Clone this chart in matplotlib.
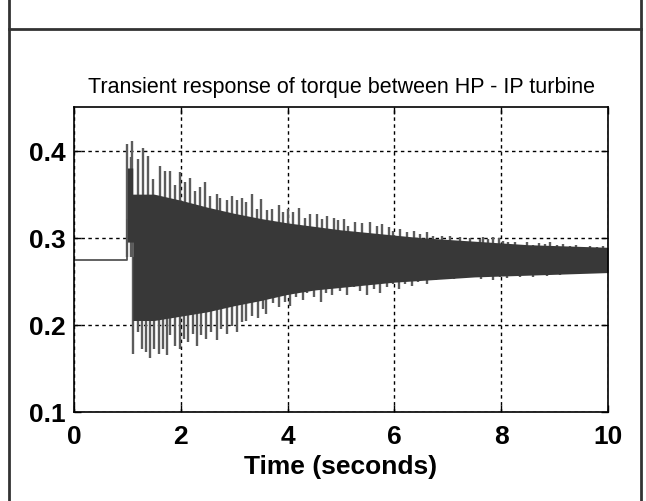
import matplotlib
matplotlib.use("Agg")
import matplotlib.pyplot as plt
from matplotlib.lines import Line2D

plt.rcParams['font.family'] = ['Liberation Sans', 'DejaVu Sans']

# pre-fault torque, then the step at t = 1 s
pre_t = [0.0, 1.0, 1.0]
pre_v = [0.275, 0.275, 0.32]

# dense part of the oscillation (where the trace looks solid)
core_t = [1.00, 1.10, 1.10, 1.5, 2.0, 2.5, 3.0, 3.5, 4.0, 4.5, 5.0, 5.5,
          6.0, 6.5, 7.0, 7.5, 8.0, 8.5, 9.0, 9.5, 10.0]
core_hi = [0.380, 0.380, 0.350, 0.350, 0.343, 0.335, 0.328, 0.322, 0.317,
           0.313, 0.309, 0.306, 0.303, 0.300, 0.298, 0.296, 0.294, 0.292,
           0.291, 0.290, 0.289]
core_lo = [0.295, 0.295, 0.205, 0.205, 0.210, 0.215, 0.222, 0.228, 0.235,
           0.240, 0.243, 0.246, 0.249, 0.251, 0.253, 0.255, 0.256, 0.257,
           0.258, 0.259, 0.260]

# upper peaks
up_t = [1.00, 1.06, 1.09, 1.20, 1.29, 1.39, 1.48, 1.61, 1.70, 1.80, 1.89,
        1.98, 2.08, 2.17, 2.27, 2.36, 2.45, 2.55, 2.67, 2.73, 2.86, 2.95,
        3.05, 3.14, 3.23, 3.33, 3.43, 3.51, 3.61, 3.70, 3.83, 3.92, 4.01,
        4.11, 4.22, 4.33, 4.42, 4.55, 4.64, 4.74, 4.86, 4.95, 5.05, 5.14,
        5.27, 5.39, 5.54, 5.67, 5.76, 5.89, 5.98, 6.11, 6.23, 6.36, 6.48,
        6.61, 6.73, 6.89, 7.05, 7.23, 7.42, 7.61, 7.65, 7.76, 7.85, 7.95,
        8.04, 8.13, 8.26, 8.35, 8.48, 8.60, 8.70, 8.82, 8.91, 9.04, 9.16,
        9.29, 9.41, 9.54, 9.66, 9.79, 9.91]
up_v = [0.408, 0.393, 0.411, 0.390, 0.403, 0.394, 0.367, 0.382, 0.376,
        0.377, 0.360, 0.375, 0.364, 0.369, 0.354, 0.358, 0.364, 0.348,
        0.350, 0.346, 0.343, 0.348, 0.343, 0.346, 0.341, 0.350, 0.333,
        0.345, 0.332, 0.333, 0.337, 0.330, 0.333, 0.330, 0.334, 0.323,
        0.327, 0.327, 0.322, 0.325, 0.323, 0.320, 0.322, 0.314, 0.318,
        0.317, 0.318, 0.314, 0.316, 0.312, 0.308, 0.310, 0.306, 0.308,
        0.304, 0.306, 0.302, 0.302, 0.302, 0.3005, 0.300, 0.299, 0.3005,
        0.2986, 0.3013, 0.2997, 0.2967, 0.2948, 0.2948, 0.2909, 0.2948,
        0.2921, 0.2936, 0.2928, 0.2948, 0.2921, 0.2928, 0.2909, 0.2921,
        0.2898, 0.2909, 0.2890, 0.2905]

# lower peaks
lo_t = [1.11, 1.19, 1.27, 1.35, 1.42, 1.50, 1.59, 1.67, 1.74, 1.80, 1.89,
        1.99, 2.06, 2.14, 2.23, 2.31, 2.38, 2.48, 2.57, 2.67, 2.76, 2.86,
        2.95, 3.05, 3.14, 3.22, 3.34, 3.44, 3.53, 3.60, 3.72, 3.83, 3.96,
        4.05, 4.15, 4.28, 4.37, 4.49, 4.62, 4.71, 4.84, 4.99, 5.11, 5.24,
        5.36, 5.48, 5.61, 5.73, 5.86, 5.98, 6.08, 6.20, 6.33, 6.45, 6.61,
        6.77, 6.93, 7.11, 7.30, 7.49, 7.63, 7.73, 7.85, 7.98, 8.10, 8.23,
        8.35, 8.48, 8.60, 8.73, 8.85, 8.98, 9.10, 9.23, 9.35, 9.48, 9.60,
        9.73, 9.85, 9.98]
lo_v = [0.167, 0.192, 0.172, 0.169, 0.162, 0.172, 0.167, 0.172, 0.165,
        0.188, 0.176, 0.172, 0.184, 0.180, 0.190, 0.176, 0.188, 0.184,
        0.192, 0.183, 0.195, 0.190, 0.199, 0.192, 0.203, 0.205, 0.210,
        0.208, 0.218, 0.212, 0.225, 0.220, 0.226, 0.222, 0.232, 0.229,
        0.236, 0.232, 0.226, 0.237, 0.234, 0.239, 0.234, 0.243, 0.239,
        0.234, 0.241, 0.237, 0.243, 0.247, 0.241, 0.247, 0.245, 0.249,
        0.247, 0.251, 0.253, 0.253, 0.255, 0.255, 0.2527, 0.2546, 0.2515,
        0.2553, 0.2538, 0.2565, 0.2546, 0.2576, 0.2553, 0.2584, 0.2565,
        0.2592, 0.2576, 0.2599, 0.2584, 0.2607, 0.2592, 0.2615, 0.2603,
        0.2622]

x_ticks = [0, 2, 4, 6, 8, 10]
y_ticks = [0.1, 0.2, 0.3, 0.4]

W, H = 646, 502
fig = plt.figure(figsize=(W / 100, H / 100), dpi=100)
ax = fig.add_axes([74 / W, (H - 413) / H, (608 - 74) / W, (413 - 108) / H])

# trace sits above the grid; spikes first so the solid band hides their bases
mid = 0.278
ax.vlines(up_t, mid, up_v, color='#5c5c5c', lw=1.7, zorder=3)
ax.vlines(lo_t, mid, lo_v, color='#5c5c5c', lw=1.7, zorder=3)
ax.fill_between(core_t, core_lo, core_hi, color='#383838', lw=0, zorder=4)
ax.plot(pre_t, pre_v, color='#555555', lw=1.3, zorder=4)

ax.set_xlim(0, 10)
ax.set_ylim(0.1, 0.45)
ax.set_xticks(x_ticks)
ax.set_xticklabels([str(v) for v in x_ticks])
ax.set_yticks(y_ticks)
ax.set_yticklabels(['%.1f' % v for v in y_ticks])
ax.grid(True, color='black', linestyle=(0, (2.5, 2.5)), lw=1.0, zorder=1)
ax.tick_params(direction='in', length=5, width=1.0, top=True, right=True,
               labelsize=19, pad=6)
ax.tick_params(axis='x', pad=9)
for lab in ax.get_xticklabels() + ax.get_yticklabels():
    lab.set_fontweight('bold')
for s in ax.spines.values():
    s.set_linewidth(1.2)
    s.set_zorder(5)

ax.set_xlabel('Time (seconds)', fontsize=19, fontweight='bold', labelpad=4)
ax.set_title('Transient response of torque between HP - IP turbine',
             fontsize=15.5, pad=11)

# surrounding table frame
frame = dict(color='#333333', lw=2, transform=None)
fig.add_artist(Line2D([9, 9], [0, H], **frame))
fig.add_artist(Line2D([641, 641], [0, H], **frame))
fig.add_artist(Line2D([9, 641], [H - 30, H - 30], **frame))

fig.savefig('out.png', dpi=100)
